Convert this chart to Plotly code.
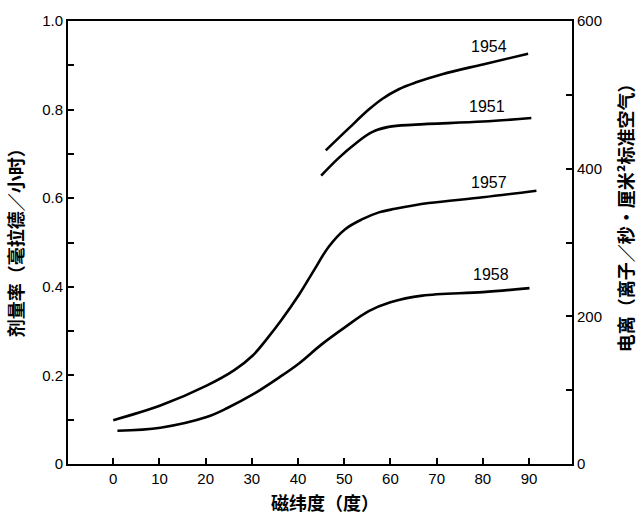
import plotly.graph_objects as go

# Magnetic latitude (deg) and dose rate (mrad/h)
lat_1954 = [46.0, 50.9, 55.3, 58.2, 61.8, 65.4, 71.2, 80.0, 89.8]
dose_1954 = [0.708, 0.757, 0.800, 0.824, 0.846, 0.861, 0.880, 0.902, 0.926]

lat_1951 = [45.0, 48.7, 52.4, 56.0, 59.6, 65.4, 80.0, 90.5]
dose_1951 = [0.651, 0.690, 0.723, 0.749, 0.761, 0.766, 0.773, 0.781]

lat_1957 = [0.0, 10.2, 20.2, 26.2, 30.2, 33.3, 36.4, 40.2, 43.6, 46.6, 50.2, 53.8, 57.5, 61.0, 68.3, 80.0, 91.6]
dose_1957 = [0.099, 0.132, 0.177, 0.212, 0.245, 0.283, 0.325, 0.382, 0.440, 0.490, 0.530, 0.552, 0.568, 0.576, 0.589, 0.602, 0.617]

lat_1958 = [0.9, 10.2, 20.2, 24.8, 30.2, 35.7, 40.2, 45.1, 50.2, 55.3, 60.0, 66.9, 80.0, 90.1]
dose_1958 = [0.075, 0.082, 0.106, 0.127, 0.157, 0.194, 0.227, 0.270, 0.309, 0.345, 0.365, 0.380, 0.388, 0.397]

series_names = ["1954", "1951", "1957", "1958"]
label_x = [81.4, 81.0, 81.4, 81.8]
label_y = [0.942, 0.807, 0.636, 0.427]

x_ticks = [0, 10, 20, 30, 40, 50, 60, 70, 80, 90]
y_ticks = [0, 0.2, 0.4, 0.6, 0.8, 1.0]
y_ticktext = ["0", "0.2", "0.4", "0.6", "0.8", "1.0"]
y2_ticks = [0, 200, 400, 600]

fig = go.Figure()
for xs, ys, name in [(lat_1954, dose_1954, "1954"), (lat_1951, dose_1951, "1951"),
                     (lat_1957, dose_1957, "1957"), (lat_1958, dose_1958, "1958")]:
    fig.add_trace(go.Scatter(x=xs, y=ys, mode="lines", name=name,
                             line=dict(color="black", width=2.6, shape="spline", smoothing=1.0),
                             showlegend=False))
# empty trace so the right axis is drawn
fig.add_trace(go.Scatter(x=[None], y=[None], yaxis="y2", showlegend=False, hoverinfo="skip"))

for name, lx, ly in zip(series_names, label_x, label_y):
    fig.add_annotation(x=lx, y=ly, text=name, showarrow=False,
                       font=dict(family="Liberation Sans", size=16, color="black"))

tick_font = dict(family="Liberation Sans", size=15, color="black")
title_font = dict(family="Noto Sans CJK SC", size=18, color="black")

# axis titles as annotations (both vertical titles read bottom-to-top like the reference)
fig.add_annotation(xref="paper", yref="paper", x=-0.105, y=0.51, xanchor="center", yanchor="middle",
                   text="<b>剂量率（毫拉德／小时）</b>", textangle=-90, showarrow=False, font=title_font)
fig.add_annotation(xref="paper", yref="paper", x=1.105, y=0.566, xanchor="center", yanchor="middle",
                   text="<b>电离（离子／秒·厘米²标准空气）</b>", textangle=-90, showarrow=False, font=title_font)
fig.add_annotation(xref="paper", yref="paper", x=0.51, y=-0.086, xanchor="center", yanchor="middle",
                   text="<b>磁纬度（度）</b>", showarrow=False, font=title_font)

fig.update_layout(
    width=639, height=515,
    margin=dict(l=68, r=67, t=15, b=51),
    paper_bgcolor="white", plot_bgcolor="white",
    xaxis=dict(range=[-9.8, 99.3], tickvals=x_ticks, ticks="inside", ticklen=6, tickwidth=1.5,
               tickcolor="black", showline=True, linecolor="black", linewidth=2, mirror=True,
               showgrid=False, zeroline=False, tickfont=tick_font),
    yaxis=dict(range=[0, 1.0], tickvals=y_ticks, ticktext=y_ticktext, ticks="inside", ticklen=6,
               tickwidth=1.5, tickcolor="black", showline=True, linecolor="black", linewidth=2,
               showgrid=False, zeroline=False, tickfont=tick_font,
               minor=dict(dtick=0.1, ticks="inside", ticklen=6, tickwidth=1.5, tickcolor="black")),
    yaxis2=dict(range=[0, 600], overlaying="y", side="right", tickvals=y2_ticks, ticks="inside",
                ticklen=6, tickwidth=1.5, tickcolor="black", showline=True, linecolor="black",
                linewidth=2, showgrid=False, zeroline=False, tickfont=tick_font,
                minor=dict(dtick=100, ticks="inside", ticklen=6, tickwidth=1.5, tickcolor="black")),
)

fig.write_html("out.html", config={"displayModeBar": False},
               post_script="document.body.style.margin='0';document.body.style.overflow='hidden';")
